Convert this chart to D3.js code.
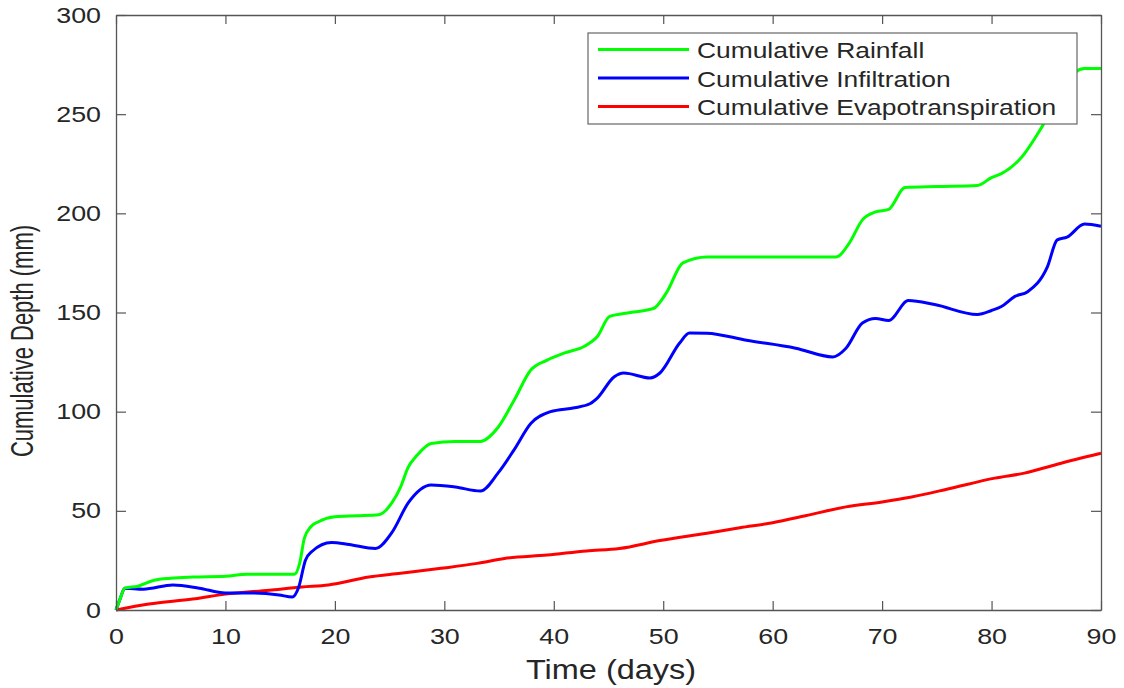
<!DOCTYPE html>
<html>
<head>
<meta charset="utf-8">
<script src="https://cdn.jsdelivr.net/npm/d3@7"></script>
<style>
  body { margin: 0; background: #fff; }
  svg text { font-family: "Liberation Sans", Arial, sans-serif; fill: #262626; }
</style>
</head>
<body>
<div id="chart"></div>
<script>
    // values (days, mm)
    var rainDays = [0, 0.4, 0.8, 2, 3.5, 5, 7, 10, 12, 16.3, 16.8, 17.2, 17.8, 18.5, 20, 22, 24, 25.2, 26, 26.7, 27.5, 28.8, 31, 33.3, 34.9, 36.4, 37.9, 39.4, 41, 42.8, 44, 45.1, 47, 49.1, 50.3, 51.8, 54, 60, 65.8, 67, 68.2, 69.4, 70.6, 72.1, 75, 78.7, 80, 80.9, 82.7, 84.6, 86, 87.6, 88.5, 90];
    var rainVals = [0, 6, 11, 12, 15, 16, 16.6, 17, 18, 18, 24, 36, 42, 44.5, 47, 47.5, 48, 54, 62, 72, 78, 84, 85, 85, 92, 106, 121, 126, 129.6, 133, 138, 148, 150, 152, 160, 175, 178, 178, 178, 185, 196.7, 200.7, 202, 213, 213.5, 214, 218, 220, 228, 243.6, 257, 271, 273, 273];

    var infDays = [0, 0.4, 0.8, 2.5, 5.2, 7.6, 10, 12.5, 14.9, 16.1, 16.7, 17.3, 17.9, 19.7, 21.3, 23.7, 25.2, 26.7, 28.8, 31, 33.3, 34.9, 36.4, 37.9, 39.7, 41.9, 43.3, 44, 45.5, 46.4, 48.8, 49.7, 51.5, 52.4, 54, 57.6, 62.1, 65.5, 66.7, 68.2, 69.4, 70.6, 72.4, 74.8, 78.7, 80, 80.9, 82.1, 83.3, 85.1, 86, 86.9, 88.5, 90];
    var infVals = [0, 6, 11, 10.5, 12.6, 11, 8.6, 8.6, 7.6, 6.5, 11.6, 25, 29.5, 34, 33, 31, 39, 54, 63, 62, 60, 69, 81, 94, 100, 102, 104, 107, 117.5, 119.5, 117, 119.5, 134.6, 139.7, 139.6, 136, 132, 127.6, 132, 144.7, 147, 146, 156, 154, 149, 151, 153, 158, 160.5, 173, 186.6, 188, 194.6, 193.5];

    var etDays = [0, 3, 7, 10, 14, 17, 19.4, 23.1, 26, 29.7, 33, 35.5, 39.4, 43, 46, 49.7, 54, 57, 60, 63, 66.7, 70, 72.7, 76, 80.3, 83, 86, 90];
    var etVals = [0, 3, 5.5, 8, 10, 11.6, 12.6, 16.6, 18.5, 21, 23.5, 26, 27.7, 29.8, 31, 35, 38.7, 41.5, 44, 47.5, 52, 54.5, 57, 61, 66.5, 69, 73.5, 79];

    var seriesNames = ["Cumulative Rainfall", "Cumulative Infiltration", "Cumulative Evapotranspiration"];
    var seriesColors = ["#00ff00", "#0000ff", "#ff0000"];

    var xTicks = [0, 10, 20, 30, 40, 50, 60, 70, 80, 90];
    var yTicks = [0, 50, 100, 150, 200, 250, 300];

    var w = 1124,
        h = 688,
        stretch = 1.22;   // the picture looks pulled sideways, so text is too

    var x = d3.scaleLinear().domain([0, 90]).range([116, 1101]);
    var y = d3.scaleLinear().domain([0, 300]).range([610, 15]);

    var svg = d3.select("#chart")
        .append("svg")
        .attr("width", w)
        .attr("height", h);

    function zip(days, vals) {
        return days.map(function(d, i) { return [d, vals[i]]; });
    }

    var allSeries = [zip(rainDays, rainVals), zip(infDays, infVals), zip(etDays, etVals)];

    var line = d3.line()
        .x(function(d) { return x(d[0]); })
        .y(function(d) { return y(d[1]); })
        .curve(d3.curveMonotoneX);

    // draw red first so green/blue sit on top like the original
    [2, 1, 0].forEach(function(i) {
        svg.append("path")
            .datum(allSeries[i])
            .attr("fill", "none")
            .attr("stroke", seriesColors[i])
            .attr("stroke-width", 3)
            .attr("stroke-linejoin", "round")
            .attr("d", line);
    });

    var axisColor = "#555";

    var gx = svg.append("g")
        .attr("transform", "translate(0,610)")
        .call(d3.axisBottom(x).tickValues(xTicks).tickSizeInner(-9).tickSizeOuter(0).tickPadding(18));
    var gy = svg.append("g")
        .attr("transform", "translate(116,0)")
        .call(d3.axisLeft(y).tickValues(yTicks).tickSizeInner(-10).tickSizeOuter(0).tickPadding(15));
    var gt = svg.append("g")
        .attr("transform", "translate(0,15)")
        .call(d3.axisTop(x).tickValues(xTicks).tickSizeInner(-9).tickSizeOuter(0).tickFormat(""));
    var gr = svg.append("g")
        .attr("transform", "translate(1101,0)")
        .call(d3.axisRight(y).tickValues(yTicks).tickSizeInner(-10).tickSizeOuter(0).tickFormat(""));

    [gx, gy, gt, gr].forEach(function(g) {
        g.select(".domain").attr("stroke", axisColor).attr("stroke-width", 1.3);
        g.selectAll(".tick line").attr("stroke", axisColor).attr("stroke-width", 1.2);
    });

    gx.selectAll(".tick text")
        .style("font-size", "22px")
        .attr("fill", "#262626")
        .attr("transform", "scale(" + stretch + ",1)");
    gy.selectAll(".tick text")
        .style("font-size", "22px")
        .attr("fill", "#262626")
        .attr("x", -15 / stretch)
        .attr("transform", "scale(" + stretch + ",1)");

    // axis titles
    svg.append("text")
        .attr("text-anchor", "middle")
        .attr("transform", "translate(611,679) scale(1.16,1)")
        .style("font-size", "28px")
        .text("Time (days)");

    svg.append("text")
        .attr("text-anchor", "middle")
        .attr("transform", "translate(33,341) rotate(-90) scale(1,1.4)")
        .style("font-size", "22px")
        .text("Cumulative Depth (mm)");

    // legend
    var legend = svg.append("g");
    legend.append("rect")
        .attr("x", 588).attr("y", 33)
        .attr("width", 489).attr("height", 91)
        .attr("fill", "#fff")
        .attr("stroke", "#666")
        .attr("stroke-width", 1.2);

    var rowY = [49.5, 78, 106.5];
    seriesNames.forEach(function(name, i) {
        legend.append("line")
            .attr("x1", 598).attr("x2", 689)
            .attr("y1", rowY[i]).attr("y2", rowY[i])
            .attr("stroke", seriesColors[i])
            .attr("stroke-width", 3);
        legend.append("text")
            .attr("transform", "translate(697," + (rowY[i] + 8.5) + ") scale(1.2,1)")
            .style("font-size", "22px")
            .text(name);
    });
</script>
</body>
</html>
